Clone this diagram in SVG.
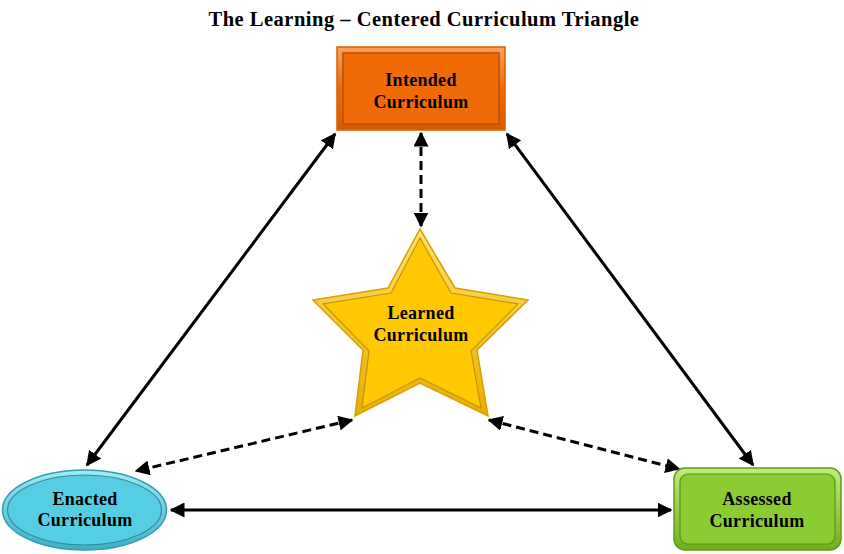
<svg xmlns="http://www.w3.org/2000/svg" width="844" height="554" viewBox="0 0 844 554">
<defs>
<marker id="ah" viewBox="0 0 10 10" refX="9" refY="5" markerWidth="5" markerHeight="5" orient="auto-start-reverse" markerUnits="strokeWidth">
<path d="M0,0 L10,5 L0,10 z" fill="#000"/>
</marker>
<linearGradient id="gO" x1="0" y1="0" x2="0" y2="1"><stop offset="0" stop-color="#F8A060"/><stop offset="0.5" stop-color="#F06A08"/><stop offset="1" stop-color="#D85A00"/></linearGradient>
<linearGradient id="gS" x1="0" y1="0" x2="0" y2="1"><stop offset="0" stop-color="#FFE070"/><stop offset="1" stop-color="#E8AE00"/></linearGradient>
<linearGradient id="gE" x1="0" y1="0" x2="0" y2="1"><stop offset="0" stop-color="#A5EAF5"/><stop offset="1" stop-color="#3FAFC4"/></linearGradient>
<linearGradient id="gA" x1="0" y1="0" x2="0" y2="1"><stop offset="0" stop-color="#C0EC80"/><stop offset="1" stop-color="#6FAF1C"/></linearGradient>
</defs>
<style>
.lbl{font-family:"Liberation Serif","Times New Roman",serif;font-weight:bold;font-size:18px;letter-spacing:0.3px;fill:#000;text-anchor:middle}
.ttl{font-family:"Liberation Serif","Times New Roman",serif;font-weight:bold;font-size:20.5px;letter-spacing:0.5px;fill:#000;text-anchor:middle}
.c{fill:none;stroke:#000;stroke-width:3;marker-start:url(#ah);marker-end:url(#ah)}
.d{stroke-dasharray:9,5}
</style>
<text class="ttl" x="424" y="26">The Learning – Centered Curriculum Triangle</text>
<g id="connectors">
<line class="c" x1="335" y1="134" x2="87" y2="465"/>
<line class="c" x1="507" y1="134" x2="753" y2="465"/>
<line class="c" x1="171" y1="510" x2="671" y2="510"/>
<line class="c d" x1="421" y1="133" x2="421" y2="226"/>
<line class="c d" x1="352" y1="420" x2="136" y2="471"/>
<line class="c d" x1="489" y1="420" x2="679" y2="469"/>
</g>
<g id="intended">
<rect x="337" y="47" width="168" height="83" fill="url(#gO)" stroke="#D86000" stroke-width="1.5"/>
<rect x="343" y="53" width="156" height="71" fill="#F06A08" stroke="#B85000" stroke-width="1.5"/>
<text class="lbl" x="421" y="86">Intended</text>
<text class="lbl" x="421" y="108">Curriculum</text>
</g>
<g id="learned">
<polygon points="420,229 455,288 528,300 477,350 488,416 420,383 355,416 363,350 313,300 388,288" fill="url(#gS)" stroke="#D9A000" stroke-width="1.5"/>
<polygon points="420,238 451,293 518,304 471,351 481,408 420,378 362,408 369,351 323,304 391,293" fill="#FFC800" stroke="#C99400" stroke-width="1.2"/>
<text class="lbl" x="421" y="319">Learned</text>
<text class="lbl" x="421" y="341">Curriculum</text>
</g>
<g id="enacted">
<ellipse cx="84.5" cy="510" rx="82" ry="40" fill="url(#gE)" stroke="#2F9FB5" stroke-width="1.5"/>
<ellipse cx="84.5" cy="510" rx="77" ry="35" fill="#55CEE3" stroke="#2E8FA3" stroke-width="1.2"/>
<text class="lbl" x="85" y="505">Enacted</text>
<text class="lbl" x="85" y="526">Curriculum</text>
</g>
<g id="assessed">
<rect x="674" y="468" width="167" height="82" rx="11" fill="url(#gA)" stroke="#5E9E12" stroke-width="1.5"/>
<rect x="680" y="474" width="155" height="70" rx="8" fill="#8CCC33" stroke="#5A9410" stroke-width="1.2"/>
<text class="lbl" x="757" y="505">Assessed</text>
<text class="lbl" x="757" y="527">Curriculum</text>
</g>
</svg>
